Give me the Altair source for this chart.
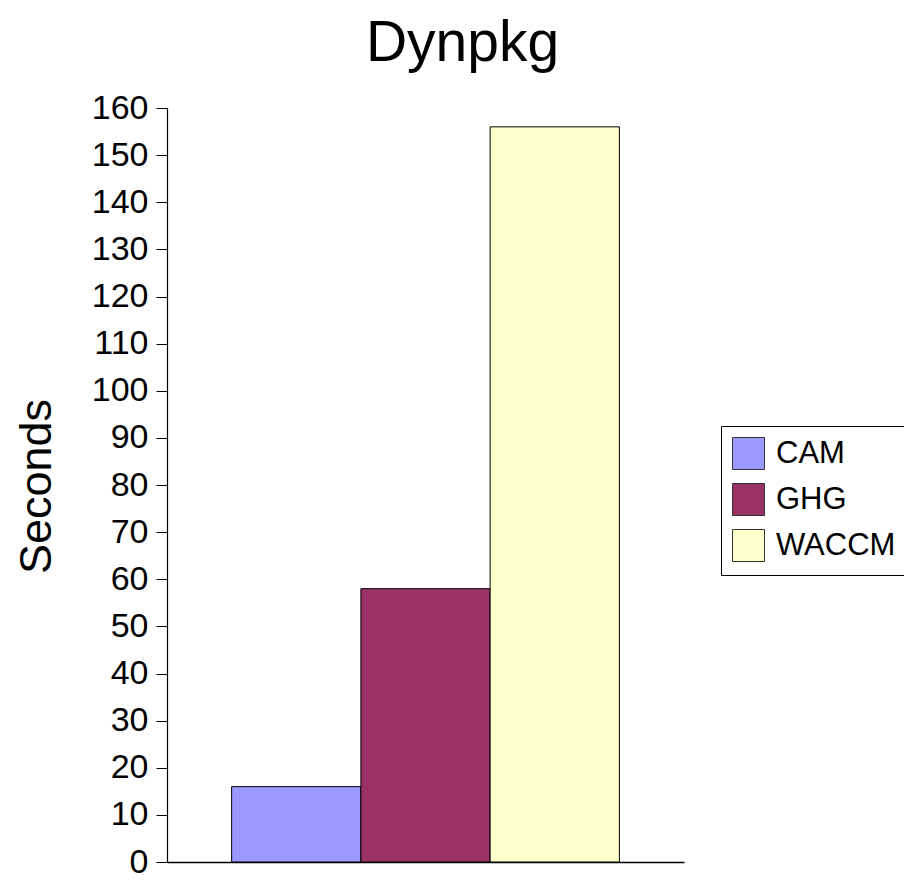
import altair as alt
import pandas as pd

series = ["CAM", "GHG", "WACCM"]
seconds = [16, 58, 156]
colors = ["#9999FF", "#993366", "#FFFFCC"]
y_ticks = list(range(0, 161, 10))

df = pd.DataFrame({"series": series, "seconds": seconds})

FONT = "Liberation Sans"

chart = alt.Chart(df).mark_bar(stroke="black", strokeWidth=1).encode(
    x=alt.X("series:N",
            scale=alt.Scale(paddingInner=0, paddingOuter=0.5),
            axis=alt.Axis(title=None, labels=False, ticks=False, domain=True,
                          domainColor="black", domainWidth=1.5, grid=False),
            sort=series),
    y=alt.Y("seconds:Q",
            scale=alt.Scale(domain=[0, 160], nice=False),
            axis=alt.Axis(title="Seconds", values=y_ticks, grid=False,
                          domainColor="black", domainWidth=1.2,
                          tickColor="black", tickSize=11, tickWidth=1,
                          labelFont=FONT, labelFontSize=34, labelColor="black",
                          labelPadding=8,
                          titleFont=FONT, titleFontSize=45, titleFontWeight="normal",
                          titleColor="black", titleAngle=270,
                          titleAlign="center", titleBaseline="middle",
                          titleX=-131, titleY=378)),
    fill=alt.Fill("series:N", sort=series,
                  scale=alt.Scale(domain=series, range=colors),
                  legend=alt.Legend(title=None, orient="none",
                                    legendX=554, legendY=318,
                                    symbolType="square", symbolSize=1024,
                                    symbolStrokeColor="#333333", symbolStrokeWidth=1,
                                    symbolOpacity=1,
                                    labelFont=FONT, labelFontSize=31, labelColor="black",
                                    labelOffset=11, rowPadding=9,
                                    padding=11,
                                    fillColor="white", strokeColor="black")),
).properties(
    width=517,
    height=754,
    title=alt.TitleParams("Dynpkg", font=FONT, fontSize=57, fontWeight="normal",
                          color="black", anchor="middle", frame="group", dx=37,
                          offset=18),
    autosize=alt.AutoSizeParams(type="none"),
    padding={"left": 159, "top": 100, "right": 220, "bottom": 18},
).configure_view(stroke=None).configure_legend(strokeWidth=1)

chart.save("out.html", embed_options={"renderer": "svg", "actions": False})
